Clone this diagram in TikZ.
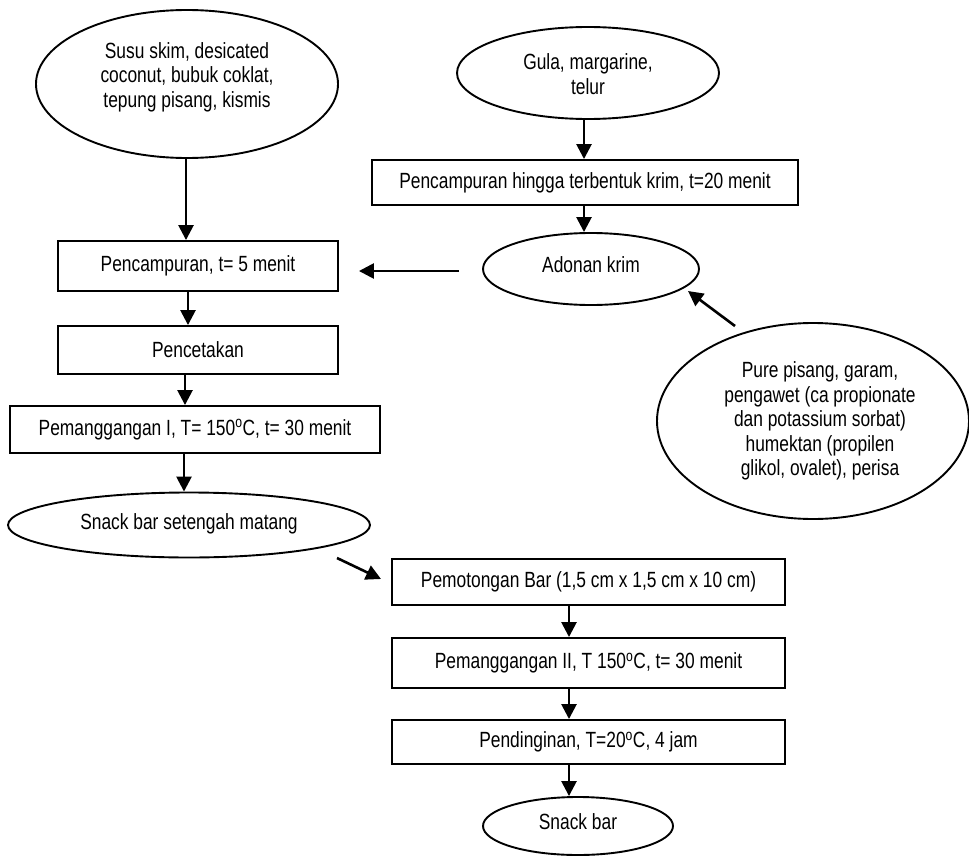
\documentclass[tikz,border=0pt]{standalone}
\usepackage{fontspec}
\setmainfont[FakeStretch=0.79]{Liberation Sans}
\usetikzlibrary{arrows.meta,shapes.geometric}
\begin{document}
\begin{tikzpicture}[x=1pt,y=-1pt,
  box/.style={draw,line width=1.9pt,rectangle,inner sep=0pt,font=\fontsize{22}{24}\selectfont},
  ell/.style={draw,line width=1.9pt,ellipse,inner sep=0pt},
  txt/.style={align=center,inner sep=0pt,font=\fontsize{22}{24.5}\selectfont},
  arr/.style={line width=2.6pt,-{Triangle[length=15pt,width=15pt]}}]
\useasboundingbox (0,0) rectangle (969,859);
% ellipses
\node[ell,minimum width=302pt,minimum height=148pt] (e1) at (187,84) {};
\node[txt] (t1) at (187,77) {Susu skim, desicated\\coconut, bubuk coklat,\\tepung pisang, kismis};
\node[ell,minimum width=262pt,minimum height=92pt] (e2) at (588,73) {};
\node[txt] (t2) at (588,74) {Gula, margarine,\\telur};
\node[ell,minimum width=216pt,minimum height=72pt] (e3) at (591,269) {};
\node[txt] (t3) at (591,265) {Adonan krim};
\node[ell,minimum width=312pt,minimum height=196pt] (e4) at (813,421) {};
\node[txt] (t4) at (820,421) {Pure pisang, garam,\\pengawet (ca propionate\\dan potassium sorbat)\\humektan (propilen\\glikol, ovalet), perisa};
\node[ell,minimum width=362pt,minimum height=65pt] (e5) at (189,525) {};
\node[txt] (t5) at (189,524) {Snack bar setengah matang};
\node[ell,minimum width=190pt,minimum height=58pt] (e6) at (578,826) {};
\node[txt] (t6) at (578,822) {Snack bar};
% boxes
\node[box,minimum width=280pt,minimum height=50pt] (b1) at (198,266) {Pencampuran, t= 5 menit};
\node[box,minimum width=280pt,minimum height=48pt] (b2) at (198,350) {Pencetakan};
\node[box,minimum width=370pt,minimum height=47pt] (b3) at (195,429.5) {Pemanggangan I, T= 150\textsuperscript{o}C, t= 30 menit};
\node[box,minimum width=426pt,minimum height=45pt] (bh) at (585,182.5) {Pencampuran hingga terbentuk krim, t=20 menit};
\node[box,minimum width=393pt,minimum height=46pt] (b4) at (588.5,582) {Pemotongan Bar (1,5 cm x 1,5 cm x 10 cm)};
\node[box,minimum width=393pt,minimum height=50pt] (b5) at (588.5,663) {Pemanggangan II, T 150\textsuperscript{o}C, t= 30 menit};
\node[box,minimum width=393pt,minimum height=44pt] (b6) at (588.5,742) {Pendinginan, T=20\textsuperscript{o}C, 4 jam};
% connectors
\draw[arr] (e1.south -| 186,0) -- (b1.north -| 186,0);
\draw[arr] (b1.south -| 188,0) -- (b2.north -| 188,0);
\draw[arr] (b2.south -| 185,0) -- (b3.north -| 185,0);
\draw[arr] (b3.south -| 184,0) -- (e5.north -| 184,0);
\draw[arr] (e2.south -| 584,0) -- (bh.north -| 584,0);
\draw[arr] (bh.south -| 584,0) -- (e3.north -| 584,0);
\draw[arr,shorten <=23pt,shorten >=20pt] (e3.west |- 0,271) -- (b1.east |- 0,271);
\coordinate (p1) at (735,326);
\coordinate (p2) at (688,291);
\draw[arr] (p1) -- (p2);
\coordinate (q1) at (337,558);
\coordinate (q2) at (381,579);
\draw[arr] (q1) -- (q2);
\draw[arr] (b4.south -| 569,0) -- (b5.north -| 569,0);
\draw[arr] (b5.south -| 569,0) -- (b6.north -| 569,0);
\draw[arr] (b6.south -| 569,0) -- (e6.north -| 569,0);
\end{tikzpicture}
\end{document}
